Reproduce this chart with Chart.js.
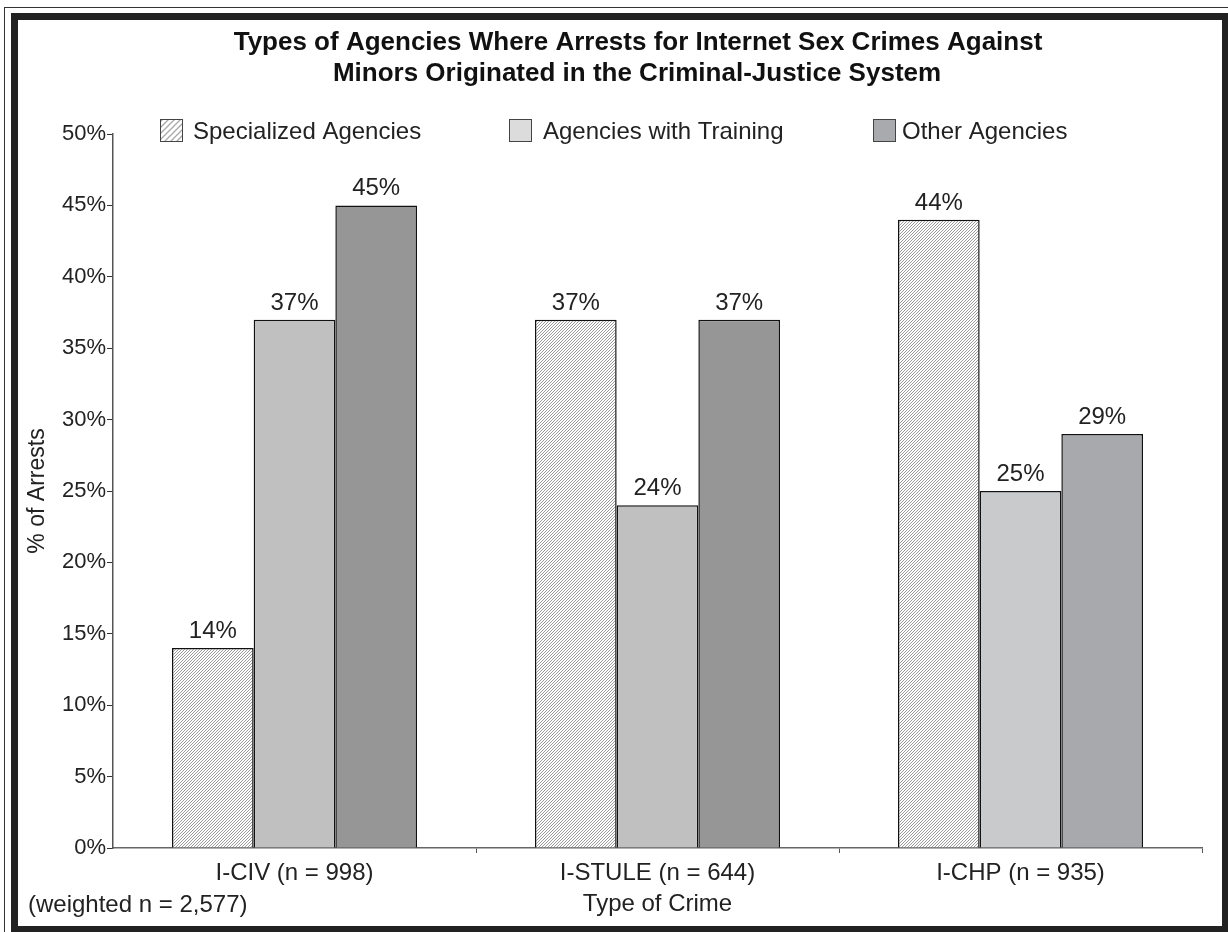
<!DOCTYPE html>
<html>
<head>
<meta charset="utf-8">
<script src="https://cdn.jsdelivr.net/npm/chart.js@4.4.1/dist/chart.umd.min.js"></script>
<style>
  body { margin: 0; background: #fff; }
  #wrap { position: relative; width: 1228px; height: 932px; overflow: hidden; }
  #thin { position: absolute; left: 4px; top: 7px; width: 1240px; height: 940px; border: 1px solid #333; }
  #thick { position: absolute; left: 11px; top: 13px; width: 1204px; height: 906px; border: 7px solid #222; background: #fff; }
  #chart { position: absolute; left: 0; top: 0; }
</style>
</head>
<body>
<div id="wrap">
  <div id="thin"></div>
  <div id="thick"></div>
  <canvas id="chart" width="1228" height="932"></canvas>
</div>
<script>
// data
const categories = ['I-CIV (n = 998)', 'I-STULE (n = 644)', 'I-CHP (n = 935)'];
const seriesNames = ['Specialized Agencies', 'Agencies with Training', 'Other Agencies'];
const specialized = [14, 37, 44];
const withTraining = [37, 24, 25];
const otherAgencies = [45, 37, 29];
const yTicks = [0, 5, 10, 15, 20, 25, 30, 35, 40, 45, 50];
const titleLines = ['Types of Agencies Where Arrests for Internet Sex Crimes Against',
                    'Minors Originated in the Criminal-Justice System'];

const FONT = '"Liberation Sans", Arial, Helvetica, sans-serif';
const TEXT = '#222';

function makeHatch(size, color, lw) {
    const c = document.createElement('canvas');
    c.width = size; c.height = size;
    const g = c.getContext('2d');
    g.fillStyle = '#fff';
    g.fillRect(0, 0, size, size);
    g.strokeStyle = color;
    g.lineWidth = lw;
    g.beginPath();
    g.moveTo(0, size); g.lineTo(size, 0);
    g.moveTo(-1, 1); g.lineTo(1, -1);
    g.moveTo(size - 1, size + 1); g.lineTo(size + 1, size - 1);
    g.stroke();
    return g.createPattern(c, 'repeat');
}

const ctx = document.getElementById('chart').getContext('2d');
const barHatch = makeHatch(3, '#9a9a9a', 1);
const legendHatch = makeHatch(6, '#a8a8a8', 1.3);

const legendFills = [legendHatch, '#dcdcdc', '#a9aaad'];
const legendBoxX = [160, 509, 873];
const legendTextX = [193, 543, 902];

// title + legend drawn by hand: the title is off-centre and the legend sits inside the plot
const headerPlugin = {
    id: 'header',
    afterDraw(chart) {
        const g = chart.ctx;
        g.save();
        g.fillStyle = '#111';
        g.font = 'bold 26px ' + FONT;
        g.textAlign = 'center';
        g.textBaseline = 'middle';
        g.fillText(titleLines[0], 638, 43);
        g.fillText(titleLines[1], 637, 74);

        g.font = '24px ' + FONT;
        g.textAlign = 'left';
        chart.data.datasets.forEach((ds, i) => {
            const x = legendBoxX[i], y = 119;
            g.fillStyle = legendFills[i];
            g.fillRect(x, y, 23, 23);
            g.strokeStyle = '#444';
            g.lineWidth = 1;
            g.strokeRect(x + 0.5, y + 0.5, 22, 22);
            g.fillStyle = TEXT;
            g.fillText(ds.label, legendTextX[i], y + 13);
        });
        g.restore();
    }
};

const valueLabels = {
    id: 'valueLabels',
    afterDatasetsDraw(chart) {
        const g = chart.ctx;
        g.save();
        g.font = '24px ' + FONT;
        g.fillStyle = TEXT;
        g.textAlign = 'center';
        g.textBaseline = 'alphabetic';
        chart.data.datasets.forEach((ds, i) => {
            chart.getDatasetMeta(i).data.forEach((bar, j) => {
                g.fillText(ds.data[j] + '%', bar.x, bar.y - 10);
            });
        });
        // footnote left of the x title
        g.textAlign = 'left';
        g.textBaseline = 'middle';
        g.fillText('(weighted n = 2,577)', 28, 905);
        g.restore();
    }
};

new Chart(ctx, {
    type: 'bar',
    data: {
        labels: categories,
        datasets: [
            {
                label: seriesNames[0],
                data: specialized,
                backgroundColor: barHatch,
                borderColor: '#111',
                borderWidth: 1.5
            },
            {
                label: seriesNames[1],
                data: withTraining,
                backgroundColor: ['#c0c0c0', '#c0c0c0', '#c9cacc'],
                borderColor: '#111',
                borderWidth: 1.5
            },
            {
                label: seriesNames[2],
                data: otherAgencies,
                backgroundColor: ['#969696', '#969696', '#a8a9ad'],
                borderColor: '#111',
                borderWidth: 1.5
            }
        ]
    },
    options: {
        responsive: false,
        animation: false,
        layout: { padding: { left: 0, right: 26, top: 134, bottom: 0 } },
        datasets: {
            bar: { categoryPercentage: 0.675, barPercentage: 1.0 }
        },
        plugins: {
            legend: { display: false },
            tooltip: { enabled: false },
            title: { display: false }
        },
        scales: {
            x: {
                grid: {
                    display: true,
                    offset: true,
                    drawOnChartArea: false,
                    tickLength: 5,
                    tickColor: (c) => (c.index === 0 || c.index === 3) ? 'rgba(0,0,0,0)' : '#555'
                },
                border: { display: true, color: '#666', width: 1.5 },
                ticks: {
                    color: TEXT,
                    font: { family: FONT, size: 24 },
                    padding: 6
                },
                title: {
                    display: true,
                    text: 'Type of Crime',
                    color: TEXT,
                    font: { family: FONT, size: 24 },
                    padding: { top: 0, bottom: 13 }
                },
                afterFit: (scale) => { scale.height = 84; }
            },
            y: {
                min: 0,
                max: 50,
                afterBuildTicks: (scale) => { scale.ticks = yTicks.map(v => ({ value: v })); },
                grid: {
                    display: true,
                    drawOnChartArea: false,
                    tickLength: 6,
                    tickColor: '#333'
                },
                border: { display: true, color: '#555', width: 1.5 },
                ticks: {
                    color: TEXT,
                    font: { family: FONT, size: 22 },
                    padding: 1,
                    callback: (v) => v + '%'
                },
                title: {
                    display: true,
                    text: '% of Arrests',
                    color: TEXT,
                    font: { family: FONT, size: 23 },
                    padding: { top: 24, bottom: 0 }
                },
                afterFit: (scale) => { scale.width = 113; }
            }
        }
    },
    plugins: [headerPlugin, valueLabels]
});
</script>
</body>
</html>
